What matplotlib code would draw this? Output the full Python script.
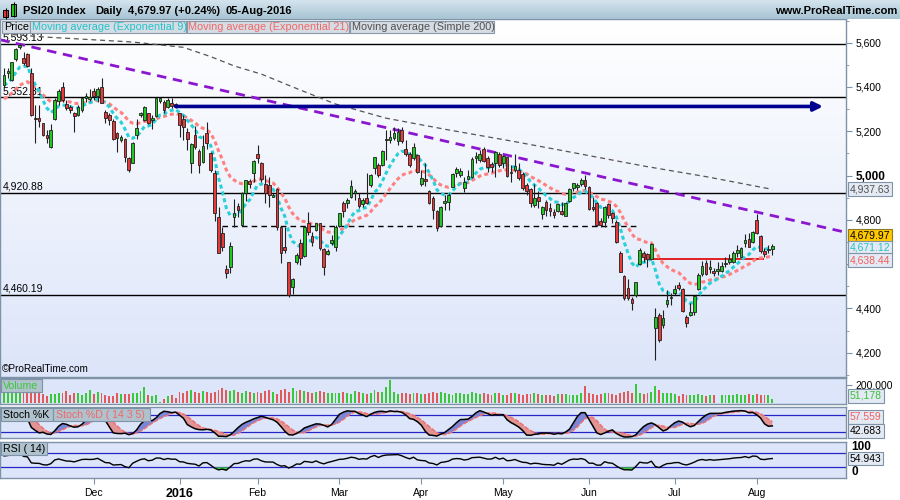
import numpy as np
import pandas as pd
import matplotlib
matplotlib.use('Agg')
import matplotlib.pyplot as plt
from matplotlib.colors import LinearSegmentedColormap
from matplotlib.patches import Rectangle

plt.rcParams['font.family'] = ['Liberation Sans', 'DejaVu Sans']

# ---- daily OHLC, PSI20, 29-Oct-2015 .. 05-Aug-2016 ----
opens = [5409, 5461, 5431, 5525, 5580, 5529, 5547, 5461, 5258, 5260,
         5236, 5181, 5127, 5254, 5338, 5401, 5323, 5308, 5281, 5273,
         5296, 5352, 5347, 5383, 5359, 5401, 5288, 5273, 5248, 5190,
         5160, 5163, 5078, 5058, 5183, 5272, 5251, 5281, 5252, 5269,
         5338, 5333, 5311, 5326, 5323, 5281, 5254, 5198, 5058, 5183,
         5111, 5063, 5190, 5103, 5010, 4811, 4739, 4578, 4585, 4811,
         4862, 4777, 4923, 4977, 5013, 5097, 5058, 4962, 4957, 4905,
         4938, 4769, 4677, 4608, 4498, 4611, 4694, 4637, 4787, 4728,
         4754, 4784, 4667, 4644, 4697, 4679, 4772, 4877, 4877, 4905,
         4920, 4897, 4871, 4900, 4957, 5033, 5047, 5047, 5160, 5160,
         5168, 5157, 5206, 5120, 5096, 5078, 5093, 4962, 4983, 4932,
         4897, 4841, 4772, 4877, 4882, 4950, 5013, 5001, 4942, 4986,
         4995, 5081, 5070, 5118, 5078, 5050, 5055, 5097, 5055, 5082,
         5013, 5025, 5025, 5007, 4958, 4938, 4867, 4902, 4827, 4882,
         4852, 4837, 4842, 4842, 4819, 4887, 4943, 4949, 4961, 4980,
         4947, 4860, 4878, 4795, 4792, 4872, 4833, 4789, 4649, 4547,
         4491, 4441, 4461, 4601, 4652, 4645, 4622, 4310, 4371, 4323,
         4419, 4446, 4469, 4506, 4487, 4360, 4368, 4383, 4487, 4554,
         4604, 4580, 4571, 4571, 4571, 4601, 4611, 4611, 4652, 4634,
         4697, 4712, 4702, 4800, 4727, 4660, 4664, 4667]
highs = [5484, 5484, 5514, 5574, 5593.13, 5559, 5552, 5484, 5318, 5318,
         5239, 5206, 5233, 5348, 5389, 5421, 5341, 5318, 5288, 5318,
         5356, 5371, 5389, 5397, 5401, 5439, 5296, 5281, 5254, 5198,
         5183, 5168, 5085, 5153, 5254, 5288, 5314, 5284, 5273, 5348,
         5356, 5341, 5348, 5348, 5329, 5284, 5273, 5213, 5148, 5224,
         5118, 5183, 5243, 5108, 5025, 4856, 4769, 4596, 4698, 4893,
         4874, 4927, 4980, 4983, 5070, 5138, 5063, 5002, 4992, 4920,
         4942, 4772, 4769, 4608, 4536, 4652, 4712, 4772, 4837, 4746,
         4787, 4787, 4671, 4667, 4731, 4777, 4832, 4886, 4897, 4980,
         4938, 4923, 4897, 5013, 5007, 5085, 5058, 5115, 5206, 5206,
         5221, 5213, 5218, 5160, 5108, 5145, 5097, 5025, 5055, 4935,
         4908, 4844, 4862, 4912, 4920, 5010, 5040, 5033, 4995, 5025,
         5082, 5108, 5115, 5127, 5088, 5063, 5108, 5108, 5093, 5085,
         5047, 5098, 5055, 5018, 4965, 4943, 4962, 4928, 4863, 4890,
         4878, 4848, 4875, 4882, 4882, 4943, 4968, 4965, 4988, 5003,
         4953, 4905, 4882, 4807, 4863, 4878, 4837, 4800, 4657, 4551,
         4532, 4450, 4521, 4672, 4661, 4649, 4697, 4401, 4381, 4393,
         4484, 4469, 4506, 4521, 4491, 4371, 4423, 4461, 4559, 4616,
         4619, 4619, 4581, 4611, 4611, 4634, 4646, 4657, 4687, 4679,
         4736, 4742, 4751, 4827, 4732, 4672, 4687, 4691]
lows = [5401, 5439, 5428, 5519, 5570, 5499, 5491, 5269, 5148, 5221,
        5178, 5145, 5123, 5251, 5318, 5333, 5296, 5281, 5198, 5269,
        5288, 5333, 5338, 5341, 5333, 5326, 5236, 5228, 5160, 5108,
        5153, 5063, 5017, 5055, 5163, 5266, 5248, 5233, 5209, 5266,
        5329, 5281, 5306, 5303, 5303, 5175, 5160, 5115, 5010, 5120,
        5013, 5058, 5118, 5017, 4796, 4649, 4661, 4536, 4561, 4769,
        4811, 4772, 4886, 4942, 4972, 5055, 4972, 4874, 4856, 4902,
        4754, 4607, 4649, 4450, 4465, 4601, 4596, 4634, 4731, 4682,
        4751, 4664, 4551, 4641, 4686, 4661, 4769, 4814, 4852, 4897,
        4890, 4852, 4859, 4871, 4950, 5007, 4995, 5043, 5070, 5145,
        5160, 5138, 5148, 5088, 5040, 5070, 5013, 4953, 4953, 4870,
        4802, 4751, 4769, 4844, 4844, 4947, 4995, 4995, 4927, 4980,
        4987, 5055, 5063, 5063, 5017, 5017, 4995, 5040, 5033, 4992,
        4972, 5018, 4980, 4935, 4912, 4857, 4860, 4852, 4803, 4815,
        4815, 4807, 4837, 4822, 4815, 4882, 4928, 4935, 4953, 4938,
        4845, 4842, 4770, 4767, 4767, 4807, 4785, 4697, 4563, 4438,
        4438, 4393, 4453, 4596, 4611, 4589, 4619, 4167, 4246, 4310,
        4408, 4416, 4461, 4484, 4383, 4314, 4366, 4371, 4481, 4547,
        4551, 4559, 4544, 4551, 4566, 4589, 4601, 4604, 4634, 4631,
        4679, 4676, 4697, 4736, 4652, 4631, 4652, 4642]
closes = [5454, 5473, 5511, 5570, 5588, 5507, 5496, 5273, 5254, 5248,
          5183, 5168, 5206, 5341, 5383, 5341, 5303, 5296, 5269, 5308,
          5352, 5359, 5352, 5359, 5389, 5329, 5258, 5251, 5163, 5168,
          5175, 5085, 5025, 5148, 5213, 5281, 5311, 5236, 5260, 5348,
          5348, 5296, 5339, 5314, 5317, 5228, 5218, 5163, 5142, 5127,
          5047, 5135, 5145, 5025, 4832, 4652, 4676, 4558, 4682, 4832,
          4844, 4923, 4980, 4962, 5066, 5081, 4983, 4920, 4912, 4909,
          4769, 4652, 4665, 4460, 4531, 4640, 4629, 4769, 4746, 4701,
          4784, 4671, 4588, 4659, 4709, 4769, 4829, 4841, 4888, 4953,
          4930, 4862, 4890, 4877, 5002, 5082, 5002, 5111, 5163, 5174,
          5190, 5195, 5156, 5097, 5046, 5127, 5017, 4989, 4977, 4874,
          4844, 4762, 4856, 4879, 4912, 5005, 5029, 5019, 4972, 4998,
          5075, 5085, 5096, 5067, 5037, 5040, 5105, 5047, 5088, 4999,
          5010, 5043, 4988, 4943, 4932, 4878, 4897, 4887, 4857, 4845,
          4842, 4822, 4870, 4827, 4878, 4938, 4965, 4958, 4980, 4953,
          4848, 4848, 4777, 4777, 4860, 4822, 4807, 4702, 4566, 4446,
          4446, 4423, 4517, 4664, 4631, 4622, 4691, 4363, 4255, 4356,
          4438, 4450, 4487, 4491, 4386, 4333, 4383, 4456, 4551, 4592,
          4554, 4586, 4559, 4577, 4592, 4605, 4622, 4649, 4664, 4672,
          4709, 4679, 4747, 4739, 4657, 4646, 4669, 4679.97]
# volume in thousands
volume_k = [115, 120, 110, 130, 125, 118, 112, 140, 120, 115,
            100, 78, 100, 102, 110, 115, 138, 90, 116, 108,
            92, 108, 145, 100, 127, 108, 92, 80, 80, 116,
            102, 100, 102, 108, 116, 138, 175, 92, 80, 92,
            18, 44, 80, 95, 60,
            125, 110, 130, 140, 120, 118, 135, 128, 112, 125,
            150, 165, 140, 130, 145, 120, 110, 138, 125, 115,
            120, 118, 130, 140, 125, 100, 150, 160, 128, 170,
            135, 142, 130, 125, 118, 122, 130, 125, 115, 108, 112,
            118, 125, 110, 102, 130, 120, 108, 100, 112, 140,
            128, 120, 175, 255, 120, 105, 112, 110, 100, 118, 108,
            105, 100, 112, 120, 115, 125, 108, 105, 95, 110,
            115, 100, 98, 120, 112, 105, 115, 100, 95, 108, 118,
            90, 95, 110, 118, 100, 92, 98, 105, 112, 100, 95,
            88, 92, 85, 98, 100, 105, 95, 88, 92, 108, 190,
            110, 105, 95, 100, 112, 108, 100, 95, 115, 120, 130,
            118, 210, 110, 100, 108, 125, 190, 145, 110, 115, 108,
            100, 82, 100, 96, 95, 88, 102, 94, 85, 96,
            92, 0, 88, 92, 90, 95, 100, 92, 96, 98, 95,
            100, 96, 92, 88, 51.178]

# 200-day simple average, read at a few points
sma_idx = [0, 10, 33, 46, 53, 59, 66, 76, 85, 98, 114, 131, 147, 164, 180, 197]
sma_val = [5640, 5626, 5603, 5579, 5537, 5495, 5458, 5386, 5323, 5259,
           5206, 5153, 5100, 5043, 4995, 4937.63]
ema9_seed, ema21_seed = 5395, 5335
rsi_seed = (30.0, 18.0)

month_idx = [23, 45, 65, 86, 107, 128, 150, 172, 193]
month_lbl = ['Dec', '2016', 'Feb', 'Mar', 'Apr', 'May', 'Jun', 'Jul', 'Aug']
levels = [5593.13, 5352.81, 4920.88, 4460.19]

n = len(closes)
x = np.arange(n)
o, h, l, c = (np.array(v, float) for v in (opens, highs, lows, closes))


def ema(vals, span, seed):
    a = 2 / (span + 1)
    out, prev = [], seed
    for v in vals:
        prev = prev + a * (v - prev)
        out.append(prev)
    return np.array(out)


ema9 = ema(c, 9, ema9_seed)
ema21 = ema(c, 21, ema21_seed)

ll = pd.Series(l).rolling(14, min_periods=1).min()
hh = pd.Series(h).rolling(14, min_periods=1).max()
raw = 100 * (pd.Series(c) - ll) / (hh - ll)
stoch_k = raw.rolling(3, min_periods=1).mean().values
stoch_d = pd.Series(stoch_k).rolling(5, min_periods=1).mean().values

g, lo = rsi_seed
rsi = []
for i in range(n):
    dlt = c[i] - c[i - 1] if i else 0.0
    g = (g * 13 + max(dlt, 0)) / 14
    lo = (lo * 13 + max(-dlt, 0)) / 14
    rsi.append(100 - 100 / (1 + g / lo))
rsi = np.array(rsi)

# ---- figure ----
fig = plt.figure(figsize=(9, 5), dpi=100)
fig.patch.set_facecolor('white')


def px_axes(x0, y0, x1, y1, **kw):
    return fig.add_axes([x0 / 900, 1 - y1 / 500, (x1 - x0) / 900, (y1 - y0) / 500], **kw)


XL = (-1.03, 215.9)
frame = '#7F93A8'
ax = px_axes(0, 19, 846, 377)
axv = px_axes(0, 378, 846, 404)
axs = px_axes(0, 407, 846, 438)
axr = px_axes(0, 442, 846, 478)

for a in (ax, axv, axs, axr):
    a.set_facecolor('#DCE5F9')
    for sp in a.spines.values():
        sp.set_color(frame)
        sp.set_linewidth(1)
    a.yaxis.tick_right()
    a.tick_params(axis='y', direction='out', length=4, width=0.8, color=frame,
                  labelsize=7.5, pad=3)
    a.set_xticks([])

# price panel
PY = (4090, 5707)
ax.imshow(np.linspace(0, 1, 200).reshape(-1, 1), extent=[XL[0], XL[1], PY[0], PY[1]],
          origin='lower', aspect='auto', zorder=0,
          cmap=LinearSegmentedColormap.from_list('bg', ['#DCE5F9', '#FFFFFF']))
ax.set_xlim(XL)
ax.set_ylim(PY)

for v in levels:
    ax.axhline(v, color='black', lw=1, zorder=2)
    ax.text(0.003, v + 6, f'{v:,.2f}', transform=ax.get_yaxis_transform(),
            fontsize=7.5, va='bottom', ha='left', zorder=2)

ax.hlines(4770, 56, 163, colors='black', linestyles=(0, (4, 3)), lw=1, zorder=2)
ax.hlines(4622, 164, 195, colors='#E01010', lw=1.3, zorder=2)
ax.plot(sma_idx, sma_val, color='#555555', lw=0.9, ls=(0, (4, 3)), zorder=2)
ax.axline((4, 5593.13), (198, 4815), color='#8A16D0', lw=2.0, ls=(0, (3.4, 2.4)), zorder=2)
ax.plot(x, ema21, color='#FF8080', lw=2.2, ls=(0, (1.3, 1.0)), zorder=3)
ax.plot(x, ema9, color='#28D0D8', lw=2.2, ls=(0, (1.3, 1.0)), zorder=3)

up = c >= o
cols = np.where(up, '#22C822', '#E83A3A')
ax.vlines(x, l, h, color='#202020', lw=0.8, zorder=4)
ax.bar(x, np.maximum(np.abs(c - o), 6), bottom=np.minimum(o, c), width=0.7,
       color=cols, edgecolor='#202020', lw=0.6, zorder=5)

ax.annotate('', xy=(210, 5312), xytext=(44, 5312), zorder=6,
            arrowprops=dict(arrowstyle='-|>', color='#000090', lw=2.6, mutation_scale=13,
                            shrinkA=0, shrinkB=0))

majors = list(range(4200, 5601, 200))
ax.set_yticks(majors, labels=['' if v == 4600 else f'{v:,}' for v in majors])
ax.set_yticks([v for v in range(4100, 5701, 100) if v not in majors], minor=True)
ax.tick_params(axis='y', which='minor', length=2.5, color=frame)
for lbl in ax.get_yticklabels():
    if lbl.get_text() == '5,000':
        lbl.set_fontweight('bold')
        lbl.set_fontsize(8.5)


def side_box(a, y, s, fc, tc, ec=frame, **kw):
    a.text(1.0045, y, s, transform=a.get_yaxis_transform(),
           ha='left', va='center', fontsize=7.5, color=tc, clip_on=False, zorder=8,
           bbox=dict(boxstyle='square,pad=0.18', fc=fc, ec=ec, lw=0.8), **kw)


# right-hand value boxes, stacked so they do not cover each other
side_box(ax, sma_val[-1], f'{sma_val[-1]:,.2f}', '#E4EAF3', '#505050')
side_box(ax, c[-1] + 47, f'{c[-1]:,.2f}', '#FFC800', 'black', ec='#8C7A2A')
side_box(ax, c[-1] - 7, f'{ema9[-1]:,.2f}', '#E4EAF3', '#28C0C8')
side_box(ax, 4638.44 - 20, '4,638.44', '#E4EAF3', '#F06060')

# volume panel
axv.set_xlim(XL)
axv.set_ylim(-7.7, 276.5)
vcols = np.where(up, '#38C838', '#E05A5A')
axv.bar(x, volume_k, width=0.5, color=vcols, zorder=2)
axv.set_yticks([200], labels=['200,000'])
side_box(axv, 82, '51,178', '#E4EAF3', '#38C038')

# stochastic panel
axs.set_xlim(XL)
axs.set_ylim(-2.5, 108.6)
for v in (20, 80):
    axs.axhline(v, color='#2626C8', lw=0.9, zorder=1)
axs.fill_between(x, stoch_k, stoch_d, where=stoch_k >= stoch_d, interpolate=True,
                 color='#7C86D8', lw=0, zorder=2)
axs.fill_between(x, stoch_k, stoch_d, where=stoch_k < stoch_d, interpolate=True,
                 color='#E29494', lw=0, zorder=2)
axs.plot(x, stoch_d, color='#F07070', lw=1.1, ls=(0, (3, 1)), zorder=3)
axs.plot(x, stoch_k, color='black', lw=1.1, zorder=4)
axs.set_yticks([])
side_box(axs, 74, '57.559', '#E4EAF3', '#F06060')
side_box(axs, 23, '42.683', '#E4EAF3', 'black')

# RSI panel
axr.set_xlim(XL)
axr.set_ylim(-0.6, 102.3)
for v in (30, 70):
    axr.axhline(v, color='#2626C8', lw=0.9, zorder=1)
axr.fill_between(x, rsi, 30, where=rsi < 30, interpolate=True, color='#40C040', lw=0, zorder=2)
axr.plot(x, rsi, color='black', lw=1, zorder=3)
axr.set_yticks([])
axr.text(1.006, 88, '100', transform=axr.get_yaxis_transform(), fontsize=8.5,
         fontweight='bold', va='center', clip_on=False)
axr.text(1.006, 16, '0', transform=axr.get_yaxis_transform(), fontsize=8.5,
         fontweight='bold', va='center', clip_on=False)
side_box(axr, rsi[-1], '54.943', '#E4EAF3', 'black')

axr.set_xticks(month_idx, labels=month_lbl)
axr.tick_params(axis='x', direction='out', length=4, width=0.8, color=frame,
                labelsize=7.5, pad=3)
for lbl in axr.get_xticklabels():
    if lbl.get_text() == '2016':
        lbl.set_fontweight('bold')
        lbl.set_fontsize(9)

# ---- overlay: header, legend row, panel titles ----
ov = fig.add_axes([0, 0, 1, 1], zorder=10)
ov.set_axis_off()
ov.imshow(np.linspace(0, 1, 50).reshape(-1, 1), extent=[0, 900, 19, 0], aspect='auto',
          cmap=LinearSegmentedColormap.from_list('hd', ['#D4E4EE', '#A8C4D4']))
ov.set_xlim(0, 900)
ov.set_ylim(500, 0)

# little candle icon
ov.vlines([5.5, 13.7], [8, 2], [19, 17], color='black', lw=0.8)
ov.add_patch(Rectangle((3, 10), 5.2, 7, fc='#E83A3A', ec='black', lw=0.7))
ov.add_patch(Rectangle((11, 3.5), 5.4, 12.5, fc='#22C822', ec='black', lw=0.7))

hdr = dict(fontsize=8, fontweight='bold', va='center')
ov.text(23, 11, 'PSI20 Index', **hdr)
ov.text(95, 11, 'Daily', **hdr)
ov.text(128, 11, '4,679.97 (+0.24%)', **hdr)
ov.text(226, 11, '05-Aug-2016', **hdr)
ov.text(897, 11, 'www.ProRealTime.com', ha='right', **hdr)

legend_row = [('Price', 2, 27.5, 'black'),
              ('Moving average (Exponential 9)', 30, 155.5, '#22C4CC'),
              ('Moving average (Exponential 21)', 186.5, 162.5, '#F06868'),
              ('Moving average (Simple 200)', 350, 143.5, '#505050')]
for s, x0, w, tc in legend_row:
    ov.add_patch(Rectangle((x0, 20.7), w, 12.8, fc='#D6DCE3', ec='#8797A8', lw=0.8))
    ov.text(x0 + 2, 27.3, s, fontsize=7.8, color=tc, va='center')

panel_titles = [('Volume', 0.5, 379, 41, '#3CC83C'),
                ('Stoch %K', 0.5, 408, 52.5, 'black'),
                ('Stoch %D ( 14 3 5)', 53, 408, 97, '#F06868'),
                ('RSI ( 14)', 0.5, 442.3, 46.5, 'black')]
for s, x0, y0, w, tc in panel_titles:
    ov.add_patch(Rectangle((x0, y0), w, 12.5, fc='#AFC2CD', ec='#7F93A8', lw=0.8))
    ov.text(x0 + 2.5, y0 + 6.6, s, fontsize=7.6, color=tc, va='center')

ov.text(2, 369, '\u00a9ProRealTime.com', fontsize=7.2, va='center')

fig.savefig('out.png', dpi=100)
